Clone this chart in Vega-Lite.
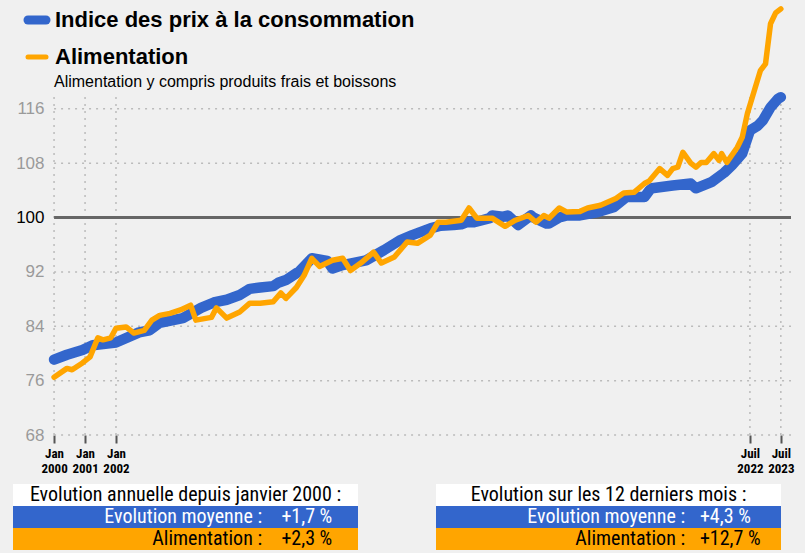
{
  "$schema": "https://vega.github.io/schema/vega-lite/v6.json",
  "background": "#f0f0f0",
  "padding": {"left": 13, "top": 0, "right": 12, "bottom": 4},
  "spacing": 9,
  "config": {"view": {"stroke": null}},
  "resolve": {"scale": {"color": "independent"}, "legend": {"color": "independent"}},
  "vconcat": [
    {
      "width": 778,
      "height": 435,
      "layer": [
        {
          "data": {"values": [{"date": "2000-01-01"}, {"date": "2001-01-01"}, {"date": "2002-01-01"}, {"date": "2022-07-01"}, {"date": "2023-07-01"}]},
          "mark": {"type": "rule", "color": "#bbbbbb", "strokeDash": [2, 5], "strokeWidth": 1.5},
          "encoding": {
            "x": {"field": "date", "type": "temporal", "title": null,
              "scale": {"type": "utc", "nice": false, "domain": [{"year": 1998, "month": 9, "date": 3, "utc": true}, {"year": 2023, "month": 10, "date": 29, "utc": true}]},
              "axis": {
                "values": [
                  {"year": 2000, "month": 1, "date": 1, "utc": true},
                  {"year": 2001, "month": 1, "date": 1, "utc": true},
                  {"year": 2002, "month": 1, "date": 1, "utc": true},
                  {"year": 2022, "month": 7, "date": 1, "utc": true},
                  {"year": 2023, "month": 7, "date": 1, "utc": true}
                ],
                "labelExpr": "[utcmonth(datum.value) == 0 ? 'Jan' : 'Juil', utcFormat(datum.value, '%Y')]",
                "grid": false, "domain": false,
                "ticks": true, "tickColor": "#555555", "tickWidth": 2, "tickSize": 8,
                "labelFont": "Liberation Sans Narrow, Arial Narrow, Roboto Condensed, sans-serif",
                "labelFontSize": 13, "labelFontWeight": "bold", "labelColor": "#000000",
                "labelLineHeight": 15, "labelPadding": 4,
                "labelFlush": false, "labelOverlap": false, "labelBound": false, "labelAlign": "center"
              }
            },
            "y": {"datum": 68, "type": "quantitative", "title": null,
              "scale": {"domain": [68, 132], "nice": false},
              "axis": {
                "values": [68, 76, 84, 92, 100, 108, 116],
                "grid": false, "ticks": false, "domain": false, "offset": -41,
                "labelFont": "Liberation Sans", "labelFontSize": 17,
                "labelColor": {"condition": {"test": "datum.value == 100", "value": "#000000"}, "value": "#9a9a9a"},
                "labelPadding": 10
              }
            },
            "y2": {"datum": 118.2}
          }
        },
        {
          "data": {"values": [{"g": 68}, {"g": 76}, {"g": 84}, {"g": 92}, {"g": 108}, {"g": 116}]},
          "mark": {"type": "rule", "color": "#bbbbbb", "strokeDash": [2, 5], "strokeWidth": 1.5},
          "encoding": {
            "y": {"field": "g", "type": "quantitative", "title": null, "scale": {"domain": [68, 132], "nice": false}},
            "x": {"datum": {"year": 2000, "month": 1, "date": 1, "utc": true}, "type": "temporal"},
            "x2": {"datum": {"year": 2023, "month": 10, "date": 29, "utc": true}}
          }
        },
        {
          "data": {"values": [{"ref": 100}]},
          "mark": {"type": "rule", "color": "#666666", "strokeWidth": 3},
          "encoding": {
            "y": {"field": "ref", "type": "quantitative", "title": null, "scale": {"domain": [68, 132], "nice": false}},
            "x": {"datum": {"year": 2000, "month": 1, "date": 1, "utc": true}, "type": "temporal"},
            "x2": {"datum": {"year": 2023, "month": 10, "date": 29, "utc": true}}
          }
        },
        {
          "data": {"values": [
            {"date": "2000-01-01", "serie": "Indice des prix à la consommation", "value": 79.1},
            {"date": "2000-06-01", "serie": "Indice des prix à la consommation", "value": 79.8},
            {"date": "2000-12-01", "serie": "Indice des prix à la consommation", "value": 80.5},
            {"date": "2001-04-01", "serie": "Indice des prix à la consommation", "value": 81.2},
            {"date": "2002-01-01", "serie": "Indice des prix à la consommation", "value": 81.6},
            {"date": "2002-10-01", "serie": "Indice des prix à la consommation", "value": 83.1},
            {"date": "2003-02-01", "serie": "Indice des prix à la consommation", "value": 83.4},
            {"date": "2003-06-01", "serie": "Indice des prix à la consommation", "value": 84.5},
            {"date": "2004-03-01", "serie": "Indice des prix à la consommation", "value": 85.2},
            {"date": "2004-10-01", "serie": "Indice des prix à la consommation", "value": 86.7},
            {"date": "2005-03-01", "serie": "Indice des prix à la consommation", "value": 87.5},
            {"date": "2005-08-01", "serie": "Indice des prix à la consommation", "value": 87.9},
            {"date": "2006-01-01", "serie": "Indice des prix à la consommation", "value": 88.6},
            {"date": "2006-05-01", "serie": "Indice des prix à la consommation", "value": 89.5},
            {"date": "2006-09-01", "serie": "Indice des prix à la consommation", "value": 89.7},
            {"date": "2007-02-01", "serie": "Indice des prix à la consommation", "value": 89.9},
            {"date": "2007-04-01", "serie": "Indice des prix à la consommation", "value": 90.4},
            {"date": "2007-07-01", "serie": "Indice des prix à la consommation", "value": 90.8},
            {"date": "2007-11-01", "serie": "Indice des prix à la consommation", "value": 91.8},
            {"date": "2007-12-01", "serie": "Indice des prix à la consommation", "value": 92.0},
            {"date": "2008-05-01", "serie": "Indice des prix à la consommation", "value": 94.0},
            {"date": "2008-11-01", "serie": "Indice des prix à la consommation", "value": 93.6},
            {"date": "2009-01-01", "serie": "Indice des prix à la consommation", "value": 92.5},
            {"date": "2009-05-01", "serie": "Indice des prix à la consommation", "value": 93.0},
            {"date": "2010-02-01", "serie": "Indice des prix à la consommation", "value": 93.7},
            {"date": "2010-09-01", "serie": "Indice des prix à la consommation", "value": 95.2},
            {"date": "2011-03-01", "serie": "Indice des prix à la consommation", "value": 96.6},
            {"date": "2011-08-01", "serie": "Indice des prix à la consommation", "value": 97.4},
            {"date": "2012-03-01", "serie": "Indice des prix à la consommation", "value": 98.4},
            {"date": "2012-07-01", "serie": "Indice des prix à la consommation", "value": 98.8},
            {"date": "2012-12-01", "serie": "Indice des prix à la consommation", "value": 98.9},
            {"date": "2013-03-01", "serie": "Indice des prix à la consommation", "value": 99.0},
            {"date": "2013-05-01", "serie": "Indice des prix à la consommation", "value": 99.3},
            {"date": "2013-08-01", "serie": "Indice des prix à la consommation", "value": 99.3},
            {"date": "2013-11-01", "serie": "Indice des prix à la consommation", "value": 99.6},
            {"date": "2014-02-01", "serie": "Indice des prix à la consommation", "value": 99.9},
            {"date": "2014-03-01", "serie": "Indice des prix à la consommation", "value": 100.3},
            {"date": "2014-07-01", "serie": "Indice des prix à la consommation", "value": 100.1},
            {"date": "2014-09-01", "serie": "Indice des prix à la consommation", "value": 100.3},
            {"date": "2015-01-01", "serie": "Indice des prix à la consommation", "value": 98.9},
            {"date": "2015-06-01", "serie": "Indice des prix à la consommation", "value": 100.3},
            {"date": "2015-07-01", "serie": "Indice des prix à la consommation", "value": 100.0},
            {"date": "2015-12-01", "serie": "Indice des prix à la consommation", "value": 99.1},
            {"date": "2016-01-01", "serie": "Indice des prix à la consommation", "value": 99.1},
            {"date": "2016-05-01", "serie": "Indice des prix à la consommation", "value": 100.0},
            {"date": "2016-08-01", "serie": "Indice des prix à la consommation", "value": 100.3},
            {"date": "2017-01-01", "serie": "Indice des prix à la consommation", "value": 100.3},
            {"date": "2017-08-01", "serie": "Indice des prix à la consommation", "value": 100.8},
            {"date": "2018-02-01", "serie": "Indice des prix à la consommation", "value": 101.5},
            {"date": "2018-07-01", "serie": "Indice des prix à la consommation", "value": 103.0},
            {"date": "2019-02-01", "serie": "Indice des prix à la consommation", "value": 103.0},
            {"date": "2019-04-01", "serie": "Indice des prix à la consommation", "value": 104.0},
            {"date": "2019-05-01", "serie": "Indice des prix à la consommation", "value": 104.3},
            {"date": "2020-01-01", "serie": "Indice des prix à la consommation", "value": 104.7},
            {"date": "2020-08-01", "serie": "Indice des prix à la consommation", "value": 105.0},
            {"date": "2020-10-01", "serie": "Indice des prix à la consommation", "value": 104.3},
            {"date": "2021-04-01", "serie": "Indice des prix à la consommation", "value": 105.2},
            {"date": "2021-09-01", "serie": "Indice des prix à la consommation", "value": 106.6},
            {"date": "2021-12-01", "serie": "Indice des prix à la consommation", "value": 107.7},
            {"date": "2022-04-01", "serie": "Indice des prix à la consommation", "value": 109.4},
            {"date": "2022-07-01", "serie": "Indice des prix à la consommation", "value": 112.8},
            {"date": "2022-10-01", "serie": "Indice des prix à la consommation", "value": 113.5},
            {"date": "2022-12-01", "serie": "Indice des prix à la consommation", "value": 114.3},
            {"date": "2023-03-01", "serie": "Indice des prix à la consommation", "value": 116.2},
            {"date": "2023-06-01", "serie": "Indice des prix à la consommation", "value": 117.5},
            {"date": "2023-07-01", "serie": "Indice des prix à la consommation", "value": 117.7},
            {"date": "2000-01-01", "serie": "Alimentation", "value": 76.5},
            {"date": "2000-06-01", "serie": "Alimentation", "value": 77.8},
            {"date": "2000-08-01", "serie": "Alimentation", "value": 77.6},
            {"date": "2000-12-01", "serie": "Alimentation", "value": 78.6},
            {"date": "2001-03-01", "serie": "Alimentation", "value": 79.5},
            {"date": "2001-06-01", "serie": "Alimentation", "value": 82.3},
            {"date": "2001-08-01", "serie": "Alimentation", "value": 82.0},
            {"date": "2001-11-01", "serie": "Alimentation", "value": 82.3},
            {"date": "2002-01-01", "serie": "Alimentation", "value": 83.7},
            {"date": "2002-05-01", "serie": "Alimentation", "value": 83.9},
            {"date": "2002-08-01", "serie": "Alimentation", "value": 83.0},
            {"date": "2002-12-01", "serie": "Alimentation", "value": 83.4},
            {"date": "2003-03-01", "serie": "Alimentation", "value": 84.9},
            {"date": "2003-06-01", "serie": "Alimentation", "value": 85.6},
            {"date": "2003-10-01", "serie": "Alimentation", "value": 85.9},
            {"date": "2004-02-01", "serie": "Alimentation", "value": 86.4},
            {"date": "2004-06-01", "serie": "Alimentation", "value": 87.1},
            {"date": "2004-08-01", "serie": "Alimentation", "value": 84.9},
            {"date": "2005-02-01", "serie": "Alimentation", "value": 85.3},
            {"date": "2005-04-01", "serie": "Alimentation", "value": 86.7},
            {"date": "2005-08-01", "serie": "Alimentation", "value": 85.2},
            {"date": "2006-01-01", "serie": "Alimentation", "value": 86.1},
            {"date": "2006-05-01", "serie": "Alimentation", "value": 87.4},
            {"date": "2006-09-01", "serie": "Alimentation", "value": 87.4},
            {"date": "2007-02-01", "serie": "Alimentation", "value": 87.6},
            {"date": "2007-05-01", "serie": "Alimentation", "value": 88.9},
            {"date": "2007-07-01", "serie": "Alimentation", "value": 88.1},
            {"date": "2007-11-01", "serie": "Alimentation", "value": 89.7},
            {"date": "2008-02-01", "serie": "Alimentation", "value": 91.5},
            {"date": "2008-05-01", "serie": "Alimentation", "value": 94.0},
            {"date": "2008-08-01", "serie": "Alimentation", "value": 92.8},
            {"date": "2009-01-01", "serie": "Alimentation", "value": 93.7},
            {"date": "2009-05-01", "serie": "Alimentation", "value": 94.0},
            {"date": "2009-08-01", "serie": "Alimentation", "value": 92.2},
            {"date": "2009-12-01", "serie": "Alimentation", "value": 93.3},
            {"date": "2010-05-01", "serie": "Alimentation", "value": 94.9},
            {"date": "2010-08-01", "serie": "Alimentation", "value": 93.3},
            {"date": "2011-01-01", "serie": "Alimentation", "value": 94.2},
            {"date": "2011-06-01", "serie": "Alimentation", "value": 96.4},
            {"date": "2011-10-01", "serie": "Alimentation", "value": 96.2},
            {"date": "2012-03-01", "serie": "Alimentation", "value": 97.4},
            {"date": "2012-06-01", "serie": "Alimentation", "value": 99.3},
            {"date": "2012-09-01", "serie": "Alimentation", "value": 99.3},
            {"date": "2013-03-01", "serie": "Alimentation", "value": 99.6},
            {"date": "2013-06-01", "serie": "Alimentation", "value": 101.4},
            {"date": "2013-09-01", "serie": "Alimentation", "value": 99.9},
            {"date": "2014-03-01", "serie": "Alimentation", "value": 99.9},
            {"date": "2014-08-01", "serie": "Alimentation", "value": 98.7},
            {"date": "2014-12-01", "serie": "Alimentation", "value": 99.6},
            {"date": "2015-05-01", "serie": "Alimentation", "value": 100.3},
            {"date": "2015-08-01", "serie": "Alimentation", "value": 99.3},
            {"date": "2015-11-01", "serie": "Alimentation", "value": 100.3},
            {"date": "2016-01-01", "serie": "Alimentation", "value": 99.9},
            {"date": "2016-05-01", "serie": "Alimentation", "value": 101.4},
            {"date": "2016-08-01", "serie": "Alimentation", "value": 100.8},
            {"date": "2017-01-01", "serie": "Alimentation", "value": 100.9},
            {"date": "2017-04-01", "serie": "Alimentation", "value": 101.4},
            {"date": "2017-09-01", "serie": "Alimentation", "value": 101.8},
            {"date": "2018-03-01", "serie": "Alimentation", "value": 102.8},
            {"date": "2018-06-01", "serie": "Alimentation", "value": 103.6},
            {"date": "2018-10-01", "serie": "Alimentation", "value": 103.7},
            {"date": "2019-02-01", "serie": "Alimentation", "value": 105.0},
            {"date": "2019-04-01", "serie": "Alimentation", "value": 105.4},
            {"date": "2019-08-01", "serie": "Alimentation", "value": 107.2},
            {"date": "2019-11-01", "serie": "Alimentation", "value": 106.2},
            {"date": "2020-01-01", "serie": "Alimentation", "value": 107.2},
            {"date": "2020-03-01", "serie": "Alimentation", "value": 107.4},
            {"date": "2020-05-01", "serie": "Alimentation", "value": 109.6},
            {"date": "2020-08-01", "serie": "Alimentation", "value": 108.0},
            {"date": "2020-10-01", "serie": "Alimentation", "value": 107.4},
            {"date": "2020-12-01", "serie": "Alimentation", "value": 108.1},
            {"date": "2021-02-01", "serie": "Alimentation", "value": 108.1},
            {"date": "2021-05-01", "serie": "Alimentation", "value": 109.4},
            {"date": "2021-07-01", "serie": "Alimentation", "value": 108.4},
            {"date": "2021-08-01", "serie": "Alimentation", "value": 109.4},
            {"date": "2021-10-01", "serie": "Alimentation", "value": 108.1},
            {"date": "2022-02-01", "serie": "Alimentation", "value": 110.3},
            {"date": "2022-04-01", "serie": "Alimentation", "value": 111.8},
            {"date": "2022-06-01", "serie": "Alimentation", "value": 115.3},
            {"date": "2022-09-01", "serie": "Alimentation", "value": 119.1},
            {"date": "2022-11-01", "serie": "Alimentation", "value": 121.6},
            {"date": "2023-01-01", "serie": "Alimentation", "value": 122.6},
            {"date": "2023-03-01", "serie": "Alimentation", "value": 128.5},
            {"date": "2023-05-01", "serie": "Alimentation", "value": 130.1},
            {"date": "2023-07-01", "serie": "Alimentation", "value": 130.7}
          ]},
          "encoding": {
            "x": {
              "field": "date", "type": "temporal", "title": null,
              "scale": {"type": "utc", "nice": false, "domain": [{"year": 1998, "month": 9, "date": 3, "utc": true}, {"year": 2023, "month": 10, "date": 29, "utc": true}]}
            },
            "y": {
              "field": "value", "type": "quantitative", "title": null,
              "scale": {"domain": [68, 132], "nice": false}
            },
            "color": {
              "field": "serie", "type": "nominal",
              "scale": {"domain": ["Indice des prix à la consommation", "Alimentation"], "range": ["#3366cc", "#ffa500"]},
              "legend": {
                "orient": "none", "legendX": 13, "legendY": 9,
                "title": "Alimentation y compris produits frais et boissons",
                "titleOrient": "bottom", "titleAnchor": "start",
                "titleFont": "Liberation Sans", "titleFontSize": 16, "titleFontWeight": "normal", "titleColor": "#000000",
                "titlePadding": 6, "titleLimit": 600,
                "labelFont": "Liberation Sans", "labelFontSize": 22, "labelFontWeight": "bold", "labelColor": "#000000",
                "labelLimit": 600, "labelOffset": 7,
                "symbolType": "stroke", "symbolSize": 324, "symbolStrokeWidth": 9,
                "rowPadding": 8, "padding": 0,
                "encode": {
                  "symbols": {"update": {"strokeWidth": {"signal": "datum.value == 'Alimentation' ? 5 : 9"}, "strokeCap": {"value": "round"}}},
                  "title": {"update": {"dx": {"value": 28}}}
                }
              }
            }
          },
          "layer": [
            {
              "transform": [{"filter": "datum.serie == 'Indice des prix à la consommation'"}],
              "mark": {"type": "line", "strokeWidth": 10.5, "strokeCap": "round", "strokeJoin": "round"}
            },
            {
              "transform": [{"filter": "datum.serie == 'Alimentation'"}],
              "mark": {"type": "line", "strokeWidth": 5.5, "strokeCap": "round", "strokeJoin": "round"}
            }
          ]
        }
      ]
    },
    {
      "spacing": 78,
      "hconcat": [
        {
          "width": 345,
          "height": 66,
          "data": {"values": [
            {"row": 1, "label": "Evolution annuelle depuis janvier 2000 :", "value": ""},
            {"row": 2, "label": "Evolution moyenne :", "value": "+1,7 %"},
            {"row": 3, "label": "Alimentation :", "value": "+2,3 %"}
          ]},
          "encoding": {"y": {"field": "row", "type": "ordinal", "axis": null, "scale": {"paddingInner": 0, "paddingOuter": 0}}},
          "layer": [
            {
              "mark": {"type": "rect"},
              "encoding": {"color": {"field": "row", "type": "ordinal", "legend": null, "scale": {"domain": [1, 2, 3], "range": ["#ffffff", "#3366cc", "#ffa500"]}}}
            },
            {
              "transform": [{"filter": "datum.row == 1"}],
              "mark": {"type": "text", "align": "center", "baseline": "middle", "font": "Liberation Sans Narrow, Arial Narrow, Roboto Condensed, sans-serif", "fontSize": 20, "color": "#000000"},
              "encoding": {"text": {"field": "label"}, "x": {"datum": 50, "type": "quantitative", "axis": null, "scale": {"domain": [0, 100]}}}
            },
            {
              "transform": [{"filter": "datum.row > 1"}],
              "mark": {"type": "text", "align": "right", "baseline": "middle", "font": "Liberation Sans Narrow, Arial Narrow, Roboto Condensed, sans-serif", "fontSize": 20},
              "encoding": {
                "text": {"field": "label"},
                "x": {"datum": 72.2, "type": "quantitative", "axis": null, "scale": {"domain": [0, 100]}},
                "color": {"condition": {"test": "datum.row == 2", "value": "#ffffff"}, "value": "#000000"}
              }
            },
            {
              "transform": [{"filter": "datum.row > 1"}],
              "mark": {"type": "text", "align": "left", "baseline": "middle", "font": "Liberation Sans Narrow, Arial Narrow, Roboto Condensed, sans-serif", "fontSize": 20},
              "encoding": {
                "text": {"field": "value"},
                "x": {"datum": 77.8, "type": "quantitative", "axis": null, "scale": {"domain": [0, 100]}},
                "color": {"condition": {"test": "datum.row == 2", "value": "#ffffff"}, "value": "#000000"}
              }
            }
          ]
        },
        {
          "width": 345,
          "height": 66,
          "data": {"values": [
            {"row": 1, "label": "Evolution sur les 12 derniers mois :", "value": ""},
            {"row": 2, "label": "Evolution moyenne :", "value": "+4,3 %"},
            {"row": 3, "label": "Alimentation :", "value": "+12,7 %"}
          ]},
          "encoding": {"y": {"field": "row", "type": "ordinal", "axis": null, "scale": {"paddingInner": 0, "paddingOuter": 0}}},
          "layer": [
            {
              "mark": {"type": "rect"},
              "encoding": {"color": {"field": "row", "type": "ordinal", "legend": null, "scale": {"domain": [1, 2, 3], "range": ["#ffffff", "#3366cc", "#ffa500"]}}}
            },
            {
              "transform": [{"filter": "datum.row == 1"}],
              "mark": {"type": "text", "align": "center", "baseline": "middle", "font": "Liberation Sans Narrow, Arial Narrow, Roboto Condensed, sans-serif", "fontSize": 20, "color": "#000000"},
              "encoding": {"text": {"field": "label"}, "x": {"datum": 50, "type": "quantitative", "axis": null, "scale": {"domain": [0, 100]}}}
            },
            {
              "transform": [{"filter": "datum.row > 1"}],
              "mark": {"type": "text", "align": "right", "baseline": "middle", "font": "Liberation Sans Narrow, Arial Narrow, Roboto Condensed, sans-serif", "fontSize": 20},
              "encoding": {
                "text": {"field": "label"},
                "x": {"datum": 72.2, "type": "quantitative", "axis": null, "scale": {"domain": [0, 100]}},
                "color": {"condition": {"test": "datum.row == 2", "value": "#ffffff"}, "value": "#000000"}
              }
            },
            {
              "transform": [{"filter": "datum.row > 1"}],
              "mark": {"type": "text", "align": "left", "baseline": "middle", "font": "Liberation Sans Narrow, Arial Narrow, Roboto Condensed, sans-serif", "fontSize": 20},
              "encoding": {
                "text": {"field": "value"},
                "x": {"datum": 76.5, "type": "quantitative", "axis": null, "scale": {"domain": [0, 100]}},
                "color": {"condition": {"test": "datum.row == 2", "value": "#ffffff"}, "value": "#000000"}
              }
            }
          ]
        }
      ]
    }
  ]
}
